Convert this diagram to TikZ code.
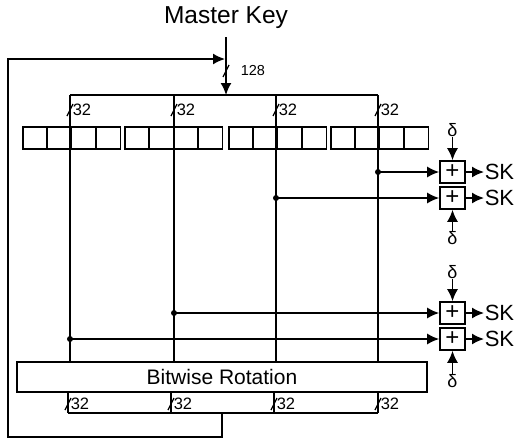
\documentclass[tikz,border=0pt]{standalone}
\usepackage{fontspec}
\setmainfont{Liberation Sans}
\usetikzlibrary{arrows.meta}
\begin{document}
\begin{tikzpicture}[x=1pt,y=-1pt,line width=1.6pt,
  arr/.style={-{Latex[length=12pt,width=11pt]}},
  cell/.style={draw,minimum width=24.4pt,minimum height=22pt,inner sep=0pt},
  adder/.style={draw,minimum width=25pt,minimum height=22pt,inner sep=0pt,font=\fontsize{24}{24}\selectfont},
  lbl/.style={inner sep=0pt,font=\fontsize{16.5}{16.5}\selectfont},
  sk/.style={inner sep=0pt,anchor=west,font=\fontsize{22}{22}\selectfont},
  dot/.style={circle,fill,inner sep=0pt,minimum size=6pt},
  slash/.style={line width=1.2pt}]
\useasboundingbox (0,0) rectangle (514,439);
% master key
\node[inner sep=0pt,font=\fontsize{24.5}{24.5}\selectfont] (mk) at (226,18) {Master Key};
\coordinate (mkt) at (226,37);
\coordinate (mkj) at (226,95);
\draw[arr] (mkt) -- (mkj);
\draw[slash] (223,77) -- (229,65);
\node[lbl,anchor=west,font=\fontsize{14.5}{14.5}\selectfont] (l128) at (240,71) {128};
% top bus
\coordinate (t1) at (70,95);
\coordinate (t2) at (174,95);
\coordinate (t3) at (276,95);
\coordinate (t4) at (378,95);
\draw (t1) -- (t4);
% registers
\foreach \g/\x in {1/22,2/124,3/228,4/330}{
  \foreach \c in {0,1,2,3}{
    \node[cell,anchor=north west] (r\g\c) at ({\x+\c*24.4},126) {};
  }
}
% rotation box
\node[draw,minimum width=410pt,minimum height=30pt,inner sep=0pt,font=\fontsize{21}{21}\selectfont] (rot) at (222,377) {Bitwise Rotation};
% vertical lines
\foreach \i/\x in {1/70,2/174,3/276,4/378}{
  \coordinate (v\i) at (\x,362);
  \draw (t\i) -- (v\i);
  \draw[slash] (\x-3,116) -- (\x+3,104);
  \node[lbl,anchor=west] (s\i) at (\x+2,110) {32};
}
% lower lines
\foreach \i/\x in {1/68,2/171,3/274,4/378}{
  \coordinate (u\i) at (\x,392);
  \coordinate (w\i) at (\x,413);
  \draw (u\i) -- (w\i);
  \draw[slash] (\x-3,410) -- (\x+3,398);
  \node[lbl,anchor=west] (q\i) at (\x+2,404) {32};
}
\draw (w1) -- (w4);
% feedback loop
\coordinate (fb0) at (222,413);
\coordinate (fb1) at (222,437);
\coordinate (fb2) at (8,437);
\coordinate (fb3) at (8,59);
\coordinate (fb4) at (225,59);
\draw[arr] (fb0) -- (fb1) -- (fb2) -- (fb3) -- (fb4);
% adders
\node[adder] (a1) at (452.5,172) {+};
\node[adder] (a2) at (452.5,198) {+};
\node[adder] (a3) at (452.5,313) {+};
\node[adder] (a4) at (452.5,339) {+};
% taps
\node[dot] (p1) at (378,172) {};
\node[dot] (p2) at (276,198) {};
\node[dot] (p3) at (174,313) {};
\node[dot] (p4) at (70,339) {};
\foreach \i in {1,2,3,4}{
  \draw[arr] (p\i.center) -- (a\i.west);
  \node[sk] (k\i) at (484,0|-a\i) {SK};
  \draw[arr] (a\i.east) -- (k\i.west);
}
% deltas
\node[lbl,font=\fontsize{18}{18}\selectfont] (d1) at (452.5,130) {δ};
\node[lbl,font=\fontsize{18}{18}\selectfont] (d2) at (452.5,238) {δ};
\node[lbl,font=\fontsize{18}{18}\selectfont] (d3) at (452.5,272) {δ};
\node[lbl,font=\fontsize{18}{18}\selectfont] (d4) at (452.5,381) {δ};
\draw[arr] (d1.south) -- (a1.north);
\draw[arr] (d2.north) -- (a2.south);
\draw[arr] (d3.south) -- (a3.north);
\draw[arr] (d4.north) -- (a4.south);
\end{tikzpicture}
\end{document}
